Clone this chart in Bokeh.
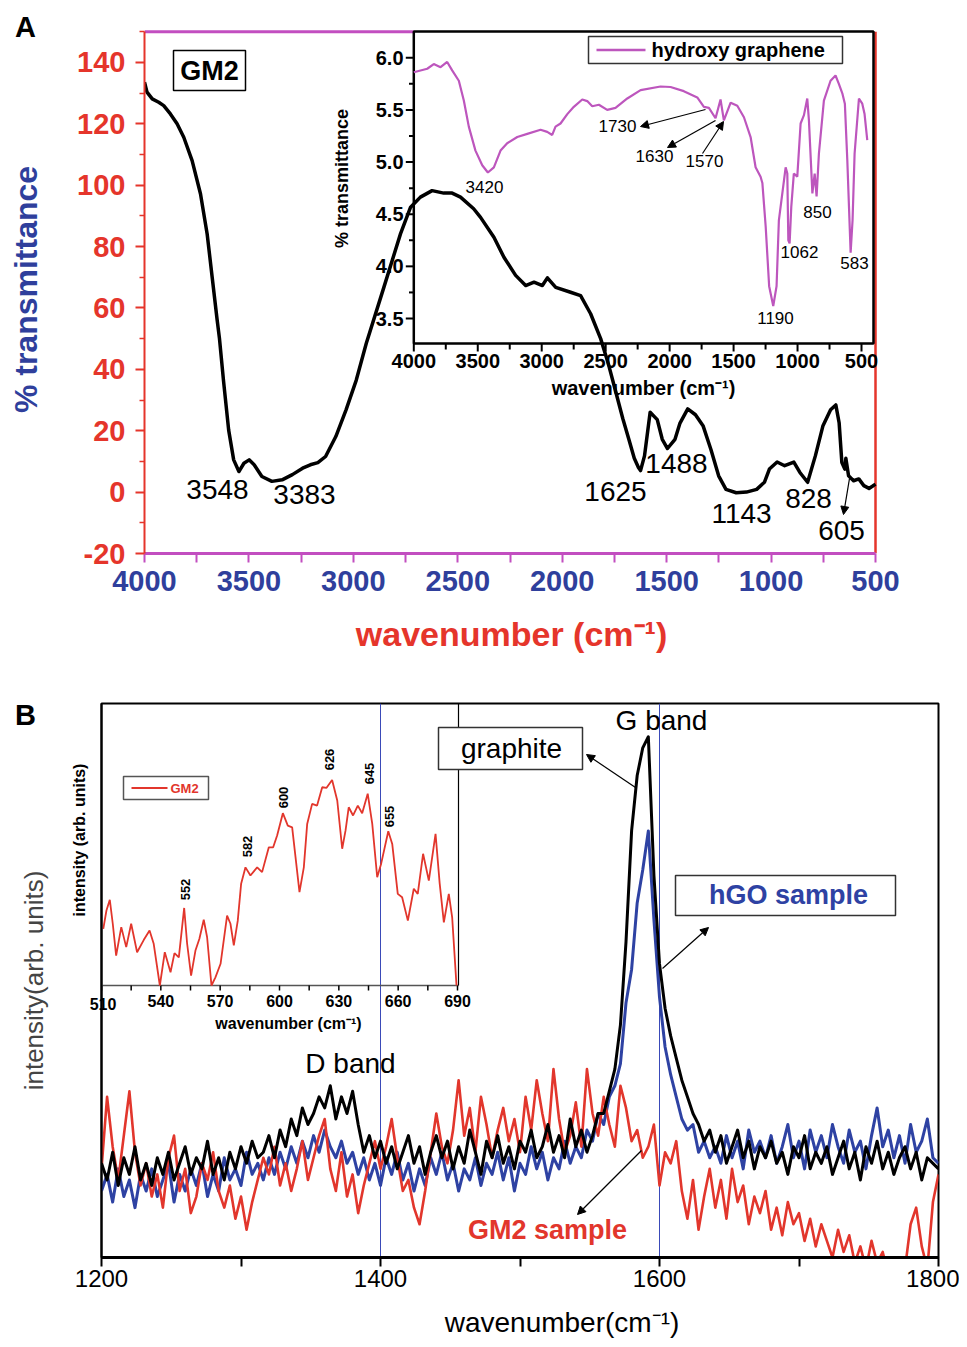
import math
from bokeh.plotting import figure
from bokeh.models import (Range1d, FixedTicker, Arrow, NormalHead, Div, PrintfTickFormatter)
from bokeh.embed import file_html
from bokeh.resources import INLINE
from bokeh.core.properties import value

FONTNAME = "Liberation Sans"
FONT = value(FONTNAME)

# ------------------------------------------------------------------ data
# Panel A: FTIR of GM2 (main, black)
gm2_ftir_x = [4000, 3988, 3963, 3932, 3908, 3876, 3844, 3812, 3772, 3732,
              3700, 3676, 3652, 3641, 3622, 3597, 3573, 3548, 3524, 3499,
              3475, 3438, 3390, 3341, 3292, 3243, 3206, 3170, 3133, 3084,
              3035, 2986, 2938, 2854, 2774, 2726, 2679, 2623, 2567, 2527,
              2487, 2424, 2391, 2327, 2279, 2223, 2175, 2135, 2095, 2071,
              2031, 1960, 1912, 1864, 1816, 1780, 1745, 1710, 1680, 1655,
              1635, 1625, 1606, 1579, 1545, 1521, 1496, 1460, 1436, 1399,
              1362, 1325, 1288, 1251, 1216, 1167, 1118, 1069, 1032, 1008,
              971, 935, 891, 862, 825, 788, 752, 715, 690, 674,
              661, 647, 642, 629, 605, 580, 556, 531, 515, 500]
gm2_ftir_y = [133.5, 130.3, 128.1, 127.0, 125.9, 123.2, 120.0, 115.6, 108.0, 97.2,
              84.1, 70.0, 56.0, 50.0, 36.5, 20.2, 10.5, 6.7, 9.4, 10.5,
              8.9, 5.1, 3.5, 4.0, 5.7, 7.8, 8.9, 9.6, 11.6, 18.1,
              26.8, 36.5, 48.5, 66.7, 84.2, 92.8, 96.1, 98.2, 97.4, 97.4,
              96.1, 92.3, 89.5, 83.0, 76.5, 70.6, 67.3, 68.4, 67.3, 69.8,
              66.7, 65.1, 64.0, 58.1, 50.0, 42.0, 33.0, 24.0, 17.0, 11.0,
              8.0, 7.0, 11.8, 26.0, 23.6, 17.2, 14.2, 17.2, 22.5, 27.1,
              25.2, 21.5, 13.9, 5.3, 0.9, -0.2, 0.0, 0.9, 3.2, 7.5,
              9.8, 8.6, 9.8, 6.4, 3.2, 11.8, 21.5, 26.8, 28.4, 22.5,
              9.6, 7.5, 11.0, 5.3, 3.7, 4.3, 2.1, 1.2, 1.9, 2.6]
gm2_ftir_peaks = ["3548", "3383", "1625", "1488", "1143", "828", "605"]

# Panel A inset: hydroxy graphene (purple)
hg_x = [4000, 3895, 3844, 3791, 3739, 3700, 3648, 3609, 3570, 3518,
        3465, 3421, 3374, 3322, 3270, 3191, 3113, 3009, 2957, 2918,
        2892, 2853, 2800, 2749, 2683, 2644, 2605, 2553, 2488, 2423,
        2331, 2227, 2071, 1993, 1889, 1784, 1732, 1693, 1641, 1602,
        1576, 1523, 1471, 1419, 1367, 1328, 1289, 1275, 1249, 1222,
        1190, 1164, 1146, 1119, 1093, 1080, 1072, 1062, 1049, 1029,
        1002, 976, 950, 924, 911, 884, 866, 851, 833, 794,
        742, 703, 677, 650, 630, 611, 585, 570, 554, 520,
        494, 476, 455]
hg_y = [5.862, 5.895, 5.94, 5.91, 5.96, 5.88, 5.78, 5.59, 5.34, 5.11,
        4.97, 4.90, 4.95, 5.11, 5.18, 5.24, 5.27, 5.31, 5.29, 5.26,
        5.34, 5.37, 5.46, 5.53, 5.60, 5.585, 5.535, 5.55, 5.50, 5.52,
        5.61, 5.69, 5.725, 5.72, 5.68, 5.62, 5.53, 5.52, 5.42, 5.60,
        5.40, 5.57, 5.54, 5.43, 5.24, 4.95, 4.86, 4.80, 4.38, 3.81,
        3.62, 3.81, 4.44, 4.70, 4.95, 4.89, 4.25, 4.22, 4.57, 4.89,
        4.86, 5.37, 5.45, 5.61, 5.40, 4.70, 4.89, 4.67, 5.08, 5.59,
        5.78, 5.83, 5.75, 5.66, 5.56, 5.02, 4.13, 4.44, 5.08, 5.61,
        5.56, 5.46, 5.21]
hg_peaks = ["3420", "1730", "1630", "1570", "850", "1062", "583", "1190"]

a_xticks = [4000, 3500, 3000, 2500, 2000, 1500, 1000, 500]
a_xminor = [3750, 3250, 2750, 2250, 1750, 1250, 750]
a_yticks = [-20, 0, 20, 40, 60, 80, 100, 120, 140]
a_yminor = [-10, 10, 30, 50, 70, 90, 110, 130, 150]
ia_xticks = [4000, 3500, 3000, 2500, 2000, 1500, 1000, 500]
ia_xminor = [3750, 3250, 2750, 2250, 1750, 1250, 750]
ia_yticks = [3.5, 4.0, 4.5, 5.0, 5.5, 6.0]
ia_yminor = [3.75, 4.25, 4.75, 5.25, 5.75]

# Panel B: Raman spectra (arb. units)
raman_x = list(range(1200, 1801, 4))
graphite_y = [17, 14, 19, 13, 18, 15, 20, 14, 17, 13,
              18, 15, 19, 14, 17, 20, 15, 18, 16, 21,
              15, 18, 14, 19, 16, 20, 17, 21, 18, 19,
              22, 18, 23, 20, 25, 22, 27, 24, 26, 29,
              27, 31, 25, 29, 26, 30, 24, 19, 22, 18,
              21, 17, 20, 16, 19, 22, 17, 20, 15, 19,
              22, 18, 21, 16, 20, 17, 23, 19, 15, 21,
              18, 22, 17, 20, 16, 21, 19, 23, 18, 20,
              24, 19, 22, 18, 25, 20, 23, 19, 22, 26,
              26, 30, 34, 42, 57, 77, 87, 92, 94, 69,
              53, 45, 40, 36, 32, 29, 26, 24, 21, 23,
              19, 22, 17, 20, 23, 18, 21, 16, 20, 18,
              21, 17, 19, 15, 20, 18, 22, 16, 19, 17,
              20, 15, 18, 21, 16, 19, 14, 20, 17, 21,
              16, 19, 15, 18, 20, 16, 19, 14, 18, 17,
              16]
hgo_y = [12, 15, 10, 16, 11, 14, 9, 15, 12, 16,
         11, 14, 17, 10, 15, 12, 16, 13, 17, 11,
         15, 12, 18, 14, 16, 13, 19, 15, 17, 14,
         18, 15, 19, 16, 20, 17, 21, 18, 22, 19,
         23, 20, 18, 21, 17, 19, 15, 18, 14, 17,
         13, 18, 15, 19, 14, 17, 12, 16, 13, 18,
         15, 19, 14, 17, 12, 16, 14, 18, 13, 17,
         15, 19, 14, 18, 12, 17, 15, 20, 16, 19,
         14, 18, 16, 21, 17, 20, 18, 23, 21, 26,
         24, 29, 31, 35, 46, 52, 64, 70, 77, 61,
         47, 38, 33, 29, 25, 23, 24, 19, 21, 18,
         20, 17, 22, 18, 21, 16, 23, 19, 21, 18,
         22, 17, 20, 24, 18, 21, 16, 23, 19, 22,
         18, 24, 20, 17, 23, 19, 21, 16, 22, 27,
         20, 23, 18, 22, 17, 24, 19, 21, 25, 18,
         17]
gm2_raman_y = [16, 29, 20, 14, 22, 30, 19, 13, 17, 11,
               15, 9, 18, 22, 12, 16, 8, 11, 17, 14,
               19, 12, 9, 13, 7, 11, 5, 10, 14, 18,
               15, 20, 13, 17, 12, 16, 21, 14, 18, 22,
               25, 16, 12, 19, 11, 15, 8, 13, 17, 21,
               16, 20, 25, 18, 12, 14, 9, 6, 12, 19,
               26, 20, 17, 23, 32, 22, 27, 19, 29, 24,
               18, 23, 27, 21, 25, 19, 29, 23, 32, 26,
               21, 34, 25, 19, 22, 28, 20, 34, 26, 22,
               29, 24, 20, 31, 27, 21, 23, 18, 20, 24,
               13, 19, 17, 21, 12, 7, 14, 5, 11, 16,
               9, 14, 7, 16, 10, 13, 6, 11, 8, 12,
               5, 9, 4, 10, 6, 8, 3, 7, 2, 6,
               3, 0, 5, 1, 4, -1, 2, -2, 3, -1,
               1, -3, -1, -4, -2, 6, 9, 2, -2, 10,
               15]
b_xticks = [1200, 1400, 1600, 1800]
b_xminor = [1300, 1500, 1700]
b_vlines = [1400, 1600]

# Panel B inset: low-wavenumber Raman of GM2
low_x = [510.9, 512.5, 514.2, 515.7, 517.4, 520.0, 522.5, 525.0, 528.0, 531.4,
         534.3, 536.4, 539.5, 542.0, 544.9, 546.9, 549.1, 551.8, 553.3, 555.3,
         557.5, 559.5, 561.7, 563.4, 565.6, 567.6, 570.2, 573.5, 575.2, 576.9,
         578.9, 580.6, 582.8, 585.3, 588.7, 591.2, 594.6, 596.8, 598.8, 601.7,
         604.2, 606.4, 608.1, 610.1, 612.3, 614.0, 616.5, 619.0, 621.6, 623.8,
         626.6, 629.2, 631.7, 633.4, 635.0, 637.2, 639.6, 641.8, 644.6, 646.9,
         649.4, 651.4, 655.0, 657.0, 659.8, 662.0, 664.9, 667.9, 669.9, 672.6,
         675.5, 678.9, 681.0, 683.1, 685.6, 687.3, 689.5]
low_y = [20.1, 26.6, 30.4, 21.9, 10.6, 20.7, 13.6, 21.9, 11.8, 16.2,
         19.5, 14.8, 0.0, 11.8, 4.7, 11.5, 10.0, 27.5, 14.8, 3.5,
         12.4, 16.6, 23.3, 17.1, 0.0, 2.9, 7.7, 24.8, 21.9, 14.2,
         23.0, 36.1, 41.9, 39.0, 41.9, 40.2, 49.0, 49.0, 53.2, 61.1,
         56.7, 56.1, 45.5, 33.1, 41.9, 57.3, 64.4, 63.8, 70.3, 70.1,
         72.9, 65.6, 48.5, 55.0, 63.2, 60.3, 63.8, 61.1, 68.0, 57.3,
         38.4, 43.2, 54.7, 50.2, 32.5, 31.3, 23.0, 34.3, 32.5, 46.7,
         37.2, 53.8, 36.1, 22.4, 32.5, 24.2, 0.0]
low_peaks = ["552", "582", "600", "626", "645", "655"]
ib_xticks = [510, 540, 570, 600, 630, 660, 690]
ib_xminor = [525, 555, 585, 615, 645, 675]

# ------------------------------------------------------------------ colours
RED = "#e5352b"
BLUE = "#2f3f9c"
MAGENTA = "#c24ec0"
PURPLE = "#bd56bd"
GM2RED = "#e2362c"
HGOBLUE = "#2e42a3"
VLINE = "#3a4ab8"


def lin(p0, v0, p1, v1, p):
    return v0 + (p - p0) * (v1 - v0) / (p1 - p0)


def txt(p, xs, ys, texts, size, color="black", style="normal", align="center",
        baseline="middle", angle=0.0, xr="default", yr="default"):
    p.text(x=xs, y=ys, text=texts, text_font=FONT, text_font_size=size,
           text_font_style=style, text_color=color, text_align=align,
           text_baseline=baseline, angle=angle, x_range_name=xr, y_range_name=yr)


def arrow(p, a, b):
    p.add_layout(Arrow(end=NormalHead(size=8, line_color="black", fill_color="black", line_width=1),
                       x_start=a[0], y_start=a[1], x_end=b[0], y_end=b[1],
                       line_color="black", line_width=1.2))


def axis_text(axis, size, color="black", style="normal"):
    axis.major_label_text_font = FONTNAME
    axis.major_label_text_font_size = size
    axis.major_label_text_color = color
    axis.major_label_text_font_style = style


# ================================================================== PANEL A  (page y 0..670)
XA1 = lin(144, 4000, 875, 500, 878)


def ma(px, py):
    return lin(144, 4000, 878, XA1, px), lin(553, -20, 25, 152, py)


def ia(px, py):
    return lin(413.3, 4000, 861, 500, px), lin(318, 3.5, 57.3, 6.0, py)


pA = figure(x_range=Range1d(4000, XA1), y_range=Range1d(-20, 152),
            frame_width=734, frame_height=528,
            min_border_left=144, min_border_right=81, min_border_top=25, min_border_bottom=117,
            output_backend="svg", toolbar_location=None)
pA.extra_x_ranges = {"ix": Range1d(ia(144, 0)[0], ia(878, 0)[0])}
pA.extra_y_ranges = {"iy": Range1d(ia(0, 553)[1], ia(0, 25)[1])}
pA.xgrid.visible = False
pA.ygrid.visible = False
pA.outline_line_color = None

ax = pA.xaxis[0]
ax.ticker = FixedTicker(ticks=a_xticks, minor_ticks=a_xminor)
ax.bounds = (500, 4000)
ax.axis_line_color = MAGENTA
ax.axis_line_width = 3
ax.major_tick_line_color = MAGENTA
ax.major_tick_line_width = 2
ax.major_tick_in = 0
ax.major_tick_out = 9
ax.minor_tick_line_color = MAGENTA
ax.minor_tick_line_width = 2
ax.minor_tick_in = 0
ax.minor_tick_out = 9
axis_text(ax, "29px", BLUE, "bold")
ax.major_label_standoff = 8
ax.axis_label = "wavenumber (cm\u207b\u00b9)"
ax.axis_label_text_color = RED
ax.axis_label_text_font = FONTNAME
ax.axis_label_text_font_style = "bold"
ax.axis_label_text_font_size = "34px"
ax.axis_label_standoff = 21

ay = pA.yaxis[0]
ay.ticker = FixedTicker(ticks=a_yticks, minor_ticks=a_yminor)
ay.formatter = PrintfTickFormatter(format="%d")
ay.bounds = (-20, 150)
ay.axis_line_color = RED
ay.axis_line_width = 2
ay.major_tick_line_color = RED
ay.major_tick_line_width = 2
ay.major_tick_in = 0
ay.major_tick_out = 9
ay.minor_tick_line_color = RED
ay.minor_tick_line_width = 1.5
ay.minor_tick_in = 0
ay.minor_tick_out = 5
axis_text(ay, "29px", RED, "bold")
ay.major_label_standoff = 10
ay.axis_label = "% transmittance"
ay.axis_label_text_color = BLUE
ay.axis_label_text_font = FONTNAME
ay.axis_label_text_font_style = "bold"
ay.axis_label_text_font_size = "32px"
ay.axis_label_standoff = 30

# frame borders: magenta top (left of inset), red right
inset_left, inset_top = ia(413.3, 31)
inset_right, inset_bottom = ia(873, 343)
x_inset_left_main = ma(413.3, 0)[0]
pA.segment(x0=[4000], y0=[150], x1=[x_inset_left_main], y1=[150], line_color=MAGENTA, line_width=3)
pA.segment(x0=[500], y0=[-20], x1=[500], y1=[150], line_color=RED, line_width=2.5)

# inset box
pA.quad(left=[inset_left], right=[inset_right], bottom=[inset_bottom], top=[inset_top],
        fill_color="white", line_color="black", line_width=2.5,
        x_range_name="ix", y_range_name="iy")
tl = 8 / 104.3
pA.segment(x0=ia_xticks, y0=[inset_bottom] * len(ia_xticks), x1=ia_xticks,
           y1=[inset_bottom - tl] * len(ia_xticks), line_color="black", line_width=2,
           x_range_name="ix", y_range_name="iy")
pA.segment(x0=ia_xminor, y0=[inset_bottom] * len(ia_xminor), x1=ia_xminor,
           y1=[inset_bottom - tl * 0.75] * len(ia_xminor), line_color="black", line_width=2,
           x_range_name="ix", y_range_name="iy")
tx = 8 * 7.818
pA.segment(x0=[4000] * len(ia_yticks), y0=ia_yticks, x1=[4000 + tx] * len(ia_yticks), y1=ia_yticks,
           line_color="black", line_width=2, x_range_name="ix", y_range_name="iy")
pA.segment(x0=[4000] * len(ia_yminor), y0=ia_yminor, x1=[4000 + tx * 0.6] * len(ia_yminor), y1=ia_yminor,
           line_color="black", line_width=2, x_range_name="ix", y_range_name="iy")
txt(pA, ia_xticks, [ia(0, 360)[1]] * len(ia_xticks), [str(t) for t in ia_xticks], "20px",
    style="bold", xr="ix", yr="iy")
txt(pA, [ia(403, 0)[0]] * len(ia_yticks), ia_yticks, ["%.1f" % t for t in ia_yticks], "20px",
    style="bold", align="right", xr="ix", yr="iy")
xl = ia(643, 387)
txt(pA, [xl[0]], [xl[1]], ["wavenumber (cm\u207b\u00b9)"], "20px", style="bold", xr="ix", yr="iy")
yl = ia(341, 178)
txt(pA, [yl[0]], [yl[1]], ["% transmittance"], "18px", style="bold", angle=math.pi / 2, xr="ix", yr="iy")

# inset legend
lg0 = ia(588, 36)
lg1 = ia(842, 63)
pA.quad(left=[lg0[0]], right=[lg1[0]], top=[lg0[1]], bottom=[lg1[1]], fill_color="white",
        line_color="#333333", line_width=1.5, x_range_name="ix", y_range_name="iy")
l0 = ia(596, 49.5)
l1 = ia(645, 49.5)
pA.line(x=[l0[0], l1[0]], y=[l0[1], l1[1]], line_color=PURPLE, line_width=2.5,
        x_range_name="ix", y_range_name="iy")
lt = ia(651, 49.5)
txt(pA, [lt[0]], [lt[1]], ["hydroxy graphene"], "20px", style="bold", align="left", xr="ix", yr="iy")

pA.line(x=hg_x, y=hg_y, line_color=PURPLE, line_width=2.2, x_range_name="ix", y_range_name="iy")

hg_pos = [(484, 186), (617, 125), (654, 155), (704, 160), (817, 211), (799, 251), (854, 262), (775, 317)]
txt(pA, [ma(*q)[0] for q in hg_pos], [ma(*q)[1] for q in hg_pos], hg_peaks, "17px")

# main curve
pA.line(x=gm2_ftir_x, y=gm2_ftir_y, line_color="black", line_width=3.5, line_join="round")

gm2_pos = [(217, 489), (304, 494), (615, 491), (676, 463), (741, 513), (808, 498), (841, 530)]
txt(pA, [ma(*q)[0] for q in gm2_pos], [ma(*q)[1] for q in gm2_pos], gm2_ftir_peaks, "28px")
b0 = ma(173, 50)
b1 = ma(245, 90)
pA.quad(left=[b0[0]], right=[b1[0]], top=[b0[1]], bottom=[b1[1]], fill_color=None,
        line_color="black", line_width=1.5)
gp = ma(209, 70)
txt(pA, [gp[0]], [gp[1]], ["GM2"], "27px", style="bold")

arrow(pA, ma(705, 109), ma(640, 126))
arrow(pA, ma(715, 120), ma(667, 147))
arrow(pA, ma(702, 153), ma(723, 121))
arrow(pA, ma(849, 478), ma(843, 514))

# ================================================================== PANEL B  (page y 670..1345)


def mb(px, py):
    return lin(101, 1200, 938, 1800, px), lin(1257, 0, 703, 100, py)


def ib(px, py):
    return lin(101, 510, 457, 690, px), lin(985, 0, 703, 100, py)


pB = figure(x_range=Range1d(1200, 1800), y_range=Range1d(0, 100),
            frame_width=837, frame_height=554,
            min_border_left=101, min_border_right=21, min_border_top=33, min_border_bottom=84,
            output_backend="svg", toolbar_location=None)
pB.extra_x_ranges = {"bx": Range1d(510, ib(938, 0)[0])}
pB.extra_y_ranges = {"by": Range1d(ib(0, 1257)[1], 100)}
pB.xgrid.visible = False
pB.ygrid.visible = False
pB.outline_line_color = "black"
pB.outline_line_width = 2

bx = pB.xaxis[0]
bx.ticker = FixedTicker(ticks=b_xticks, minor_ticks=b_xminor)
bx.axis_line_width = 3
bx.axis_line_color = "black"
bx.major_tick_line_width = 2
bx.major_tick_in = 0
bx.major_tick_out = 9
bx.minor_tick_line_width = 2
bx.minor_tick_in = 0
bx.minor_tick_out = 9
axis_text(bx, "24px")
bx.major_label_standoff = 3

by = pB.yaxis[0]
by.ticker = FixedTicker(ticks=[])
by.axis_line_color = "black"
by.axis_line_width = 2
by.major_tick_out = 0
by.major_tick_in = 0
by.minor_tick_out = 0
by.minor_tick_in = 0
by.major_label_standoff = 0
by.axis_label = "intensity(arb. units)"
by.axis_label_text_font = FONTNAME
by.axis_label_text_font_style = "normal"
by.axis_label_text_font_size = "26px"
by.axis_label_standoff = 53

pB.segment(x0=b_vlines, y0=[0, 0], x1=b_vlines, y1=[100, 100], line_color=VLINE, line_width=1)

# inset axes
ib_right = ib(458, 0)[0]
pB.segment(x0=[510], y0=[0], x1=[ib_right], y1=[0], line_color="#555555", line_width=1.5,
           x_range_name="bx", y_range_name="by")
pB.segment(x0=[ib_right], y0=[0], x1=[ib_right], y1=[100], line_color="black", line_width=1.2,
           x_range_name="bx", y_range_name="by")
tk = 5 / 2.82
allt = ib_xticks + ib_xminor
pB.segment(x0=allt, y0=[0] * len(allt), x1=allt, y1=[-tk] * len(allt), line_color="black",
           line_width=1.5, x_range_name="bx", y_range_name="by")
yt = ib(0, 1000)[1]
txt(pB, ib_xticks[1:], [yt] * (len(ib_xticks) - 1), [str(t) for t in ib_xticks[1:]], "16px",
    style="bold", xr="bx", yr="by")
bxl = mb(288, 1023)
txt(pB, [bxl[0]], [bxl[1]], ["wavenumber (cm\u207b\u00b9)"], "16px", style="bold")

q0 = mb(123, 776)
q1 = mb(208, 799)
pB.quad(left=[q0[0]], right=[q1[0]], top=[q0[1]], bottom=[q1[1]], fill_color="white",
        line_color="#555555", line_width=1.5)
m0 = mb(131, 787.5)
m1 = mb(167, 787.5)
pB.line(x=[m0[0], m1[0]], y=[m0[1], m1[1]], line_color=GM2RED, line_width=1.8)
mt = mb(170, 787.5)
txt(pB, [mt[0]], [mt[1]], ["GM2"], "13px", color=GM2RED, style="bold", align="left")

pB.line(x=low_x, y=low_y, line_color=GM2RED, line_width=1.8, x_range_name="bx", y_range_name="by")
low_pos = [(185, 889), (247, 846), (283, 797), (329, 759), (369, 773), (389, 816)]
txt(pB, [mb(*q)[0] for q in low_pos], [mb(*q)[1] for q in low_pos], low_peaks, "13px",
    style="bold", angle=math.pi / 2)

pB.line(x=raman_x, y=hgo_y, line_color=HGOBLUE, line_width=3, line_join="round")
pB.line(x=raman_x, y=gm2_raman_y, line_color=GM2RED, line_width=2.6, line_join="round")
pB.line(x=raman_x, y=graphite_y, line_color="black", line_width=3, line_join="round")

d = mb(350, 1063)
txt(pB, [d[0]], [d[1]], ["D band"], "28px")
g = mb(661, 720)
txt(pB, [g[0]], [g[1]], ["G band"], "28px")
r0 = mb(438, 727)
r1 = mb(582, 769)
pB.quad(left=[r0[0]], right=[r1[0]], top=[r0[1]], bottom=[r1[1]], fill_color="white",
        line_color="#333333", line_width=1.5)
gt = mb(511, 748)
txt(pB, [gt[0]], [gt[1]], ["graphite"], "28px")
h0 = mb(675, 875)
h1 = mb(895, 915)
pB.quad(left=[h0[0]], right=[h1[0]], top=[h0[1]], bottom=[h1[1]], fill_color="white",
        line_color="#333333", line_width=1.5)
ht = mb(788, 894)
txt(pB, [ht[0]], [ht[1]], ["hGO sample"], "27px", color=HGOBLUE, style="bold")
st = mb(547, 1229)
txt(pB, [st[0]], [st[1]], ["GM2 sample"], "27px", color=GM2RED, style="bold")

arrow(pB, mb(635, 787), mb(586, 754))
arrow(pB, mb(662, 968), mb(708, 927))
arrow(pB, mb(641, 1150), mb(577, 1214))

# texts that sit outside the plot frames (absolutely positioned HTML text)
FAM = "font-family: 'Liberation Sans', Arial, sans-serif; "
LETTER = ('<span style="' + FAM + 'font-size: 29px; font-weight: bold; line-height: 1; '
          'color: black;">%s</span>')
divA = Div(text=LETTER % "A", styles={"position": "absolute", "left": "10px", "top": "8px"})
divB = Div(text=LETTER % "B", styles={"position": "absolute", "left": "10px", "top": "696px"})
div510 = Div(text=('<div style="' + FAM + 'font-size: 16px; font-weight: bold; line-height: 20px; '
                   'width: 40px; text-align: center; color: black;">' + str(ib_xticks[0]) + '</div>'),
             width=40, height=20,
             styles={"position": "absolute", "left": "78px", "top": "990px"})
divIY = Div(text=('<div style="' + FAM + 'font-size: 16px; font-weight: bold; line-height: 20px; '
                  'width: 200px; text-align: center; white-space: nowrap; color: black;">'
                  'intensity (arb. units)</div>'),
            width=200, height=20,
            styles={"position": "absolute", "left": "-25px", "top": "825px",
                    "transform": "rotate(-90deg)", "transform-origin": "100px 10px"})
divBX = Div(text=('<div style="' + FAM + 'font-size: 28px; line-height: 32px; width: 400px; '
                  'text-align: center; white-space: nowrap; color: black;">'
                  'wavenumber(cm\u207b\u00b9)</div>'),
            width=400, height=32,
            styles={"position": "absolute", "left": "357px", "top": "1302px"})

open("out.html", "w").write(file_html([pA, pB, divA, divB, div510, divIY, divBX], INLINE))
